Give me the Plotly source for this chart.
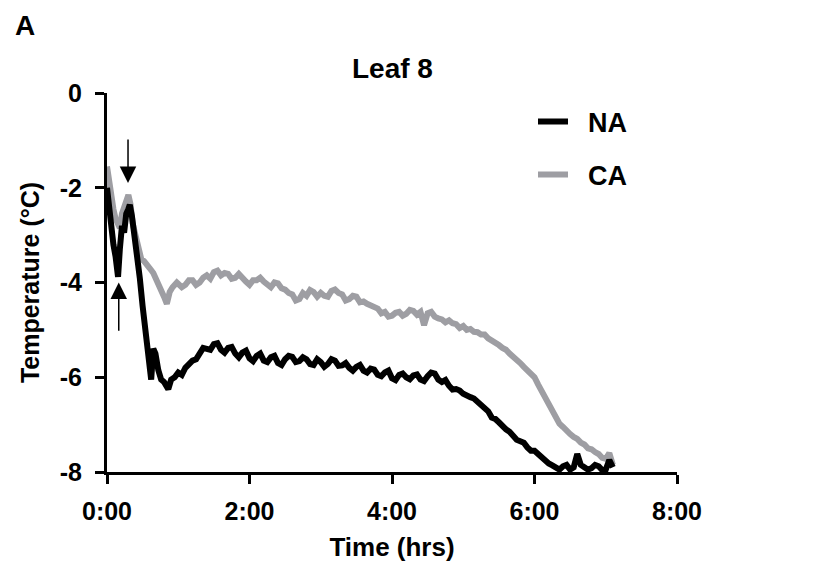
import plotly.graph_objects as go

# ---------------- data ----------------
na_time = [0.00, 0.03, 0.06, 0.09, 0.12, 0.155, 0.18, 0.21, 0.24, 0.27, 0.30, 0.32,
           0.35, 0.38, 0.42, 0.46, 0.50, 0.54, 0.58, 0.62, 0.65, 0.68, 0.72, 0.76,
           0.80, 0.86, 0.90, 0.95, 1.00,
           1.05, 1.10, 1.15, 1.20, 1.25, 1.30, 1.35, 1.40, 1.45, 1.50, 1.55, 1.60,
           1.65, 1.70, 1.75, 1.80, 1.85, 1.90, 1.95, 2.00, 2.05, 2.10, 2.15, 2.20,
           2.25, 2.30, 2.35, 2.40, 2.45, 2.50, 2.55, 2.60, 2.65, 2.70, 2.75, 2.80,
           2.85, 2.90, 2.95, 3.00, 3.05, 3.10, 3.15, 3.20, 3.25, 3.30, 3.35, 3.40,
           3.45, 3.50, 3.55, 3.60, 3.65, 3.70, 3.75, 3.80, 3.85, 3.90, 3.95, 4.00,
           4.05, 4.10, 4.15, 4.20, 4.25, 4.30, 4.35, 4.40, 4.45, 4.50, 4.55, 4.60,
           4.65, 4.70, 4.75, 4.80, 4.85, 4.90, 4.95, 5.00, 5.05, 5.10, 5.15, 5.20,
           5.25, 5.30, 5.35, 5.40, 5.45, 5.50, 5.55, 5.60, 5.65, 5.70, 5.75, 5.80,
           5.85, 5.90, 5.95, 6.00, 6.05, 6.10, 6.15, 6.20, 6.25, 6.30, 6.35, 6.40,
           6.45, 6.50, 6.55, 6.60, 6.65, 6.70, 6.75, 6.80, 6.85, 6.90, 6.95, 7.00,
           7.05, 7.10]
na_temp = [-2.00, -2.45, -2.90, -3.20, -3.45, -3.88, -3.30, -2.80, -2.95, -2.55, -2.45, -2.36,
           -2.60, -2.90, -3.40, -3.90, -4.50, -5.00, -5.45, -6.05, -5.40, -5.50, -5.85, -6.05,
           -6.10, -6.25, -6.05, -6.00, -5.90,
           -5.95, -5.80, -5.70, -5.65, -5.62, -5.50, -5.38, -5.40, -5.42, -5.30, -5.28, -5.42,
           -5.48, -5.38, -5.36, -5.50, -5.58, -5.48, -5.44, -5.60, -5.66, -5.55, -5.50, -5.65,
           -5.68, -5.58, -5.55, -5.70, -5.74, -5.62, -5.55, -5.57, -5.68, -5.66, -5.58, -5.62,
           -5.72, -5.74, -5.62, -5.68, -5.78, -5.72, -5.62, -5.65, -5.76, -5.75, -5.70, -5.80,
           -5.86, -5.78, -5.74, -5.86, -5.90, -5.82, -5.84, -5.95, -5.98, -5.90, -5.86, -6.02,
           -6.06, -5.95, -5.92, -6.00, -6.04, -5.96, -5.94, -6.05, -6.08, -5.98, -5.90, -5.92,
           -6.05, -6.10, -6.06, -6.18, -6.26, -6.25, -6.28, -6.35, -6.40, -6.42, -6.45, -6.52,
           -6.62, -6.65, -6.72, -6.85, -6.88, -6.95, -7.05, -7.10, -7.15, -7.25, -7.32, -7.35,
           -7.38, -7.48, -7.55, -7.55, -7.62, -7.70, -7.78, -7.82, -7.86, -7.90, -7.95, -7.88,
           -7.85, -7.95, -7.90, -7.62, -7.85, -7.90, -7.95, -7.92, -7.85, -7.88, -7.96, -7.95,
           -7.75, -7.90]

ca_time = [0.00, 0.03, 0.06, 0.09, 0.12, 0.15, 0.18, 0.21, 0.24, 0.27, 0.30, 0.33,
           0.36, 0.40, 0.44, 0.48, 0.52, 0.56, 0.60, 0.65, 0.70, 0.75, 0.80, 0.84,
           0.88, 0.92, 0.98, 1.05,
           1.10, 1.15, 1.20, 1.25, 1.30, 1.35, 1.40, 1.45, 1.50, 1.55, 1.60, 1.65,
           1.70, 1.75, 1.80, 1.85, 1.90, 1.95, 2.00, 2.05, 2.10, 2.15, 2.20, 2.25,
           2.30, 2.35, 2.40, 2.45, 2.50, 2.55, 2.60, 2.65, 2.70, 2.75, 2.80, 2.85,
           2.90, 2.95, 3.00, 3.05, 3.10, 3.15, 3.20, 3.25, 3.30, 3.35, 3.40, 3.45,
           3.50, 3.55, 3.60, 3.65, 3.70, 3.75, 3.80, 3.85, 3.90, 3.95, 4.00, 4.05,
           4.10, 4.15, 4.20, 4.25, 4.30, 4.35, 4.40, 4.45, 4.50, 4.55, 4.60, 4.65,
           4.70, 4.75, 4.80, 4.85, 4.90, 4.95, 5.00, 5.05, 5.10, 5.15, 5.20, 5.25,
           5.30, 5.35, 5.40, 5.45, 5.50, 5.55, 5.60, 5.65, 5.70, 5.75, 5.80, 5.85,
           5.90, 5.95, 6.00, 6.05, 6.10, 6.15, 6.20, 6.25, 6.30, 6.35, 6.40, 6.45,
           6.50, 6.55, 6.60, 6.65, 6.70, 6.75, 6.80, 6.85, 6.90, 6.95, 7.00, 7.05,
           7.10]
ca_temp = [-1.55, -1.90, -2.20, -2.45, -2.65, -2.80, -2.85, -2.55, -2.40, -2.30, -2.15, -2.35,
           -2.75, -3.00, -3.30, -3.50, -3.55, -3.65, -3.70, -3.80, -3.95, -4.15, -4.30, -4.45,
           -4.20, -4.10, -4.00, -4.10,
           -4.05, -3.95, -3.95, -4.05, -4.00, -3.90, -3.85, -3.92, -3.78, -3.75, -3.85, -3.80,
           -3.82, -3.92, -3.90, -3.82, -3.88, -3.98, -4.05, -3.95, -3.95, -3.90, -3.98, -4.06,
           -4.10, -4.00, -4.02, -4.12, -4.15, -4.22, -4.25, -4.38, -4.35, -4.22, -4.28, -4.16,
           -4.20, -4.30, -4.22, -4.28, -4.30, -4.18, -4.15, -4.22, -4.25, -4.38, -4.35, -4.28,
           -4.30, -4.42, -4.40, -4.45, -4.48, -4.52, -4.55, -4.65, -4.62, -4.72, -4.70, -4.64,
           -4.62, -4.70, -4.66, -4.58, -4.60, -4.68, -4.62, -4.90, -4.65, -4.62, -4.72, -4.76,
           -4.78, -4.84, -4.80, -4.86, -4.88, -4.96, -4.92, -5.00, -4.98, -5.04, -5.05, -5.10,
           -5.10, -5.18, -5.22, -5.28, -5.32, -5.38, -5.42, -5.50, -5.56, -5.64, -5.70, -5.78,
           -5.85, -5.92, -6.00, -6.15, -6.30, -6.45, -6.55, -6.72, -6.85, -6.98, -7.05, -7.15,
           -7.20, -7.26, -7.30, -7.38, -7.42, -7.50, -7.52, -7.58, -7.62, -7.70, -7.72, -7.60,
           -7.85]

x_tick_vals = [0, 2, 4, 6, 8]
x_tick_text = ["0:00", "2:00", "4:00", "6:00", "8:00"]
y_tick_vals = [0, -2, -4, -6, -8]

series_names = ["NA", "CA"]

# ---------------- figure ----------------
FONT = "Liberation Sans, Arial, sans-serif"
BLACK = "#000000"
GREY = "#9e9ea3"

# page body has an 8px default margin: compensate so the screenshot lines up
OFF = 8
W, H = 821 - OFF, 572 - OFF
L, R, T, B = 107 - OFF, 144, 93 - OFF, 100
PW, PH = W - L - R, H - T - B


def px_x(px):  # screen x -> paper x
    return (px - OFF - L) / PW


def px_y(py):  # screen y -> paper y
    return (H - B - (py - OFF)) / PH


fig = go.Figure()
fig.add_trace(go.Scatter(x=ca_time, y=ca_temp, mode="lines", name="\u00a0\u00a0" + series_names[1],
                         line=dict(color=GREY, width=6), legend="legend2"))
fig.add_trace(go.Scatter(x=na_time, y=na_temp, mode="lines", name="\u00a0\u00a0" + series_names[0],
                         line=dict(color=BLACK, width=6), legend="legend"))

axis_common = dict(showline=True, linecolor="black", linewidth=3, ticks="outside",
                   ticklen=9, tickwidth=3, tickcolor="black", showgrid=False,
                   zeroline=False, automargin=False,
                   tickfont=dict(family=FONT, size=25, color="black", weight="bold"))

fig.update_xaxes(range=[0, 8], tickvals=x_tick_vals, ticktext=x_tick_text,
                 ticklabelstandoff=6,
                 title=dict(text="<b>Time (hrs)</b>", font=dict(family=FONT, size=26, color="black"),
                            standoff=14),
                 **axis_common)
fig.update_yaxes(range=[-8, 0], tickvals=y_tick_vals, ticktext=[str(v) for v in y_tick_vals],
                 ticklabelstandoff=8,
                 title=dict(text="<b>Temperature (°C)</b>", font=dict(family=FONT, size=25, color="black"),
                            standoff=14),
                 **axis_common)

legend_common = dict(font=dict(family=FONT, size=27, color="black", weight="bold"),
                     bgcolor="rgba(0,0,0,0)", xanchor="left", yanchor="middle",
                     itemwidth=30)
fig.update_layout(
    legend=dict(x=px_x(533), y=px_y(122), **legend_common),
    legend2=dict(x=px_x(533), y=px_y(175), **legend_common),
)

# arrows
fig.add_annotation(x=0.295, y=-1.9, ax=0.295, ay=-0.95, xref="x", yref="y", axref="x", ayref="y",
                   showarrow=True, arrowhead=2, arrowsize=2.2, arrowwidth=1.5, arrowcolor="black", text="")
fig.add_annotation(x=0.165, y=-4.0, ax=0.165, ay=-5.05, xref="x", yref="y", axref="x", ayref="y",
                   showarrow=True, arrowhead=2, arrowsize=2.2, arrowwidth=1.5, arrowcolor="black", text="")

# title and panel label
fig.add_annotation(text="<b>Leaf 8</b>", x=px_x(392), y=px_y(68), xref="paper", yref="paper",
                   showarrow=False, xanchor="center", yanchor="middle",
                   font=dict(family=FONT, size=28, color="black"))
fig.add_annotation(text="<b>A</b>", x=px_x(25), y=px_y(9), xref="paper", yref="paper",
                   showarrow=False, xanchor="center", yanchor="top", borderpad=0,
                   font=dict(family=FONT, size=28, color="black"))

fig.update_layout(
    width=W, height=H,
    margin=dict(l=L, r=R, t=T, b=B, autoexpand=False),
    paper_bgcolor="white", plot_bgcolor="white",
    showlegend=True,
)

fig.write_html("out.html")
